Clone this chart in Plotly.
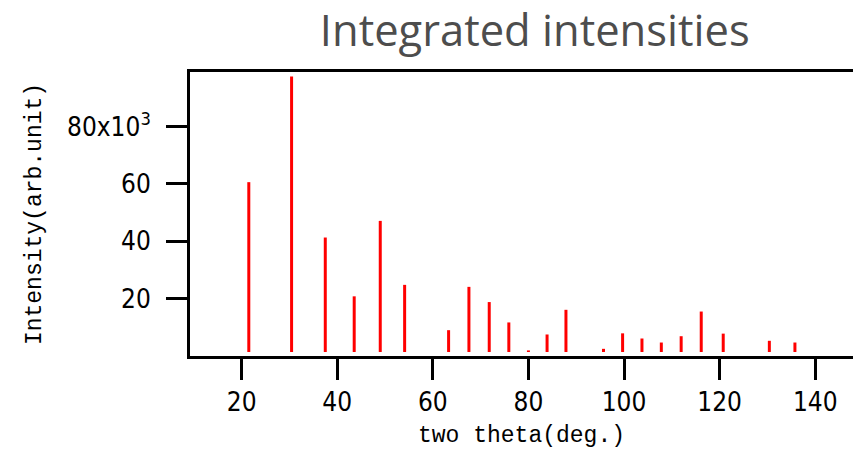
import plotly.graph_objects as go

# Peak positions (two theta, deg) and integrated intensities (arb. unit)
two_theta = [21.5, 30.45, 37.5, 43.55, 49.0, 54.1, 63.3, 67.55, 71.8, 75.9,
             80.0, 83.9, 87.85, 95.7, 99.7, 103.75, 107.8, 111.95, 116.15,
             120.75, 130.4, 135.75]
intensity = [60600, 97400, 41300, 20800, 47100, 24800, 9000, 24100, 18800, 11700,
             1950, 7500, 16100, 2500, 7900, 6100, 4700, 6900, 15500,
             7800, 5300, 4700]

y_tickvals = [20000, 40000, 60000, 80000]
y_ticktext = ["20", "40", "60", "80x10<sup>3</sup>"]
x_tickvals = [20, 40, 60, 80, 100, 120, 140]

STICK_BASE = 1400

xs, ys = [], []
for t, v in zip(two_theta, intensity):
    xs += [t, t, None]
    ys += [STICK_BASE, v, None]

fig = go.Figure()
fig.add_trace(go.Scatter(x=xs, y=ys, mode="lines",
                         line=dict(color="#ff0000", width=3),
                         hoverinfo="skip", showlegend=False))

tick_font = dict(family="Liberation Sans Narrow, DejaVu Sans Condensed, Noto Sans CJK JP, sans-serif",
                 size=26, color="#000000")
title_font = dict(family="Liberation Mono, DejaVu Sans Mono, monospace", size=23, color="#000000")

fig.update_layout(
    width=853, height=450,
    margin=dict(l=190, r=0, t=72, b=94),
    paper_bgcolor="white", plot_bgcolor="white",
    title=dict(text="Integrated intensities", x=0.52, xref="paper", xanchor="center",
               y=1 - 31 / 450, yref="container", yanchor="middle",
               font=dict(family="Open Sans, Segoe UI, sans-serif", size=43.5, color="#4d4d4d")),
    xaxis=dict(range=[9.2, 147.9], tickvals=x_tickvals, ticks="outside", ticklen=21,
               tickwidth=3, tickcolor="#000000", showline=True, linewidth=3,
               linecolor="#000000", mirror=True, showgrid=False, zeroline=False,
               tickfont=tick_font, ticklabelstandoff=0,
               title=dict(text="two theta(deg.)", font=title_font, standoff=10)),
    yaxis=dict(range=[0, 99000], tickvals=y_tickvals, ticktext=y_ticktext,
               ticks="outside", ticklen=21, tickwidth=3, tickcolor="#000000",
               showline=True, linewidth=3, linecolor="#000000", mirror=False,
               showgrid=False, zeroline=False, tickfont=tick_font, ticklabelstandoff=10,
               title=dict(text="Intensity(arb.unit)", font=title_font, standoff=19)),
)

fig.write_html("out.html")
